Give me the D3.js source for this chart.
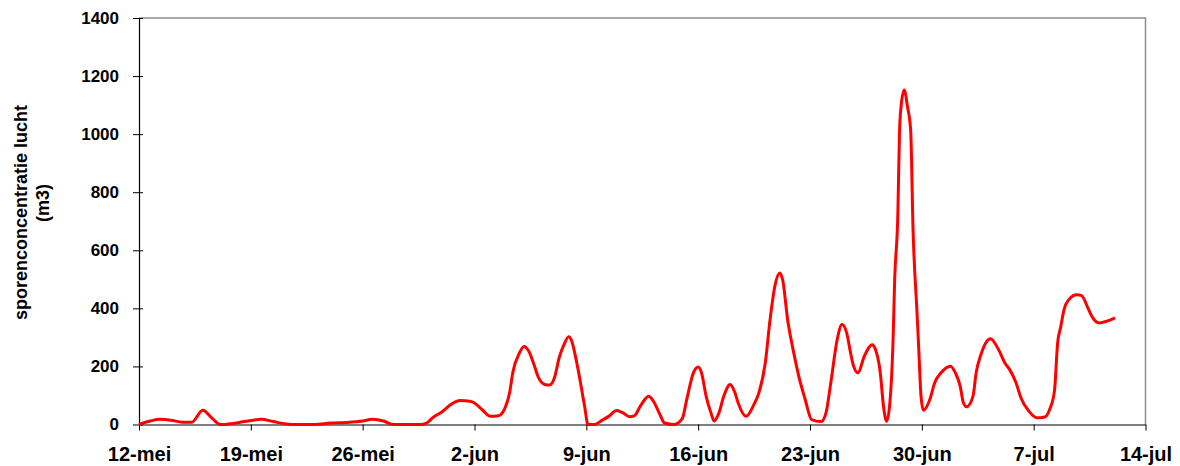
<!DOCTYPE html>
<html><head><meta charset="utf-8">
<script src="https://cdn.jsdelivr.net/npm/d3@7"></script>
<style>
body{margin:0;background:#fff;}
svg text{font-family:"Liberation Sans",Arial,sans-serif;font-weight:bold;fill:#000;}
</style></head>
<body><svg id="c" width="1180" height="466"></svg>
<script>
const tickLabels = ["12-mei","19-mei","26-mei","2-jun","9-jun","16-jun","23-jun","30-jun","7-jul","14-jul"];
const tickDays = [0,7,14,21,28,35,42,49,56,63];
const yTicks = [0,200,400,600,800,1000,1200,1400];
const days = [0,0.7,1.3,2.0,2.7,3.3,3.99,4.6,5.1,5.8,6.6,7.65,8.4,9.2,10.0,11.0,12.0,13.0,14.0,14.6,15.3,15.9,16.8,17.6,18.0,18.4,19.0,19.6,20.1,20.7,21.0,21.5,22.0,22.5,23.0,23.2,23.4,23.8,24.1,24.4,24.7,25.0,25.4,25.7,26.0,26.3,26.6,26.9,27.1,27.3,27.6,27.9,28.1,28.5,29.0,29.4,29.9,30.3,30.7,31.0,31.4,31.9,32.2,32.6,32.9,33.5,34.0,34.3,34.7,35.0,35.2,35.5,35.8,36.0,36.3,36.6,37.0,37.3,37.5,38.0,38.5,38.8,39.2,39.5,39.8,40.1,40.3,40.6,40.9,41.3,41.7,42.1,42.7,43.0,43.3,43.7,44.0,44.3,44.5,44.7,45.0,45.4,45.9,46.1,46.4,46.6,46.8,47.0,47.2,47.3,47.5,47.6,47.7,47.9,48.1,48.3,48.45,48.7,48.8,48.95,49.1,49.5,49.8,50.2,50.8,51.1,51.4,51.6,51.8,52.2,52.4,52.7,53.0,53.3,53.8,54.2,54.5,54.9,55.2,55.7,56.2,56.7,57.0,57.3,57.5,57.7,57.9,58.2,58.7,59.0,59.4,59.7,60.1,61.1];
const values = [0,12,18,15,8,8,49,20,0,3,10,18,10,2,0,0,5,7,12,18,12,0,0,0,5,24,45,72,83,80,74,50,28,30,70,110,180,245,269,252,210,162,138,136,160,230,275,302,285,240,155,60,0,0,15,28,48,40,27,30,65,97,80,35,5,0,20,90,178,198,180,97,40,12,40,97,138,110,75,28,70,109,212,361,476,522,495,361,269,166,86,17,10,40,143,292,344,315,258,206,178,235,275,258,178,63,11,75,292,499,728,1003,1095,1152,1095,1015,671,384,269,97,49,86,143,178,201,178,132,75,61,97,178,241,281,295,258,212,189,143,92,46,23,26,52,115,281,338,396,430,447,444,401,367,350,367];

const svg = d3.select("#c");
const x = d3.scaleLinear().domain([0,63]).range([139,1145.5]);
const y = d3.scaleLinear().domain([0,1400]).range([424.5,18]);

// frame top/right
svg.append("path").attr("d",`M${x(0)},${y(1400)}H${x(63)}V${y(0)}`)
  .attr("fill","none").attr("stroke","#8c8c8c").attr("stroke-width",1.5);

// y axis
const ya = svg.append("g").attr("transform",`translate(${x(0)},0)`)
  .call(d3.axisLeft(y).tickValues(yTicks).tickSizeInner(6).tickSizeOuter(0).tickPadding(14).tickFormat(d3.format("d")));
ya.select(".domain").attr("stroke","#000").attr("stroke-width",1.2);
ya.selectAll(".tick line").attr("stroke","#000").attr("x2",-6).attr("x1",4);
ya.selectAll("text").style("font-size","17px").style("font-family","'Liberation Sans',Arial,sans-serif").style("font-weight","bold");

// x axis
const xa = svg.append("g").attr("transform",`translate(0,${y(0)})`)
  .call(d3.axisBottom(x).tickValues(tickDays).tickSizeInner(6).tickSizeOuter(0).tickPadding(16).tickFormat((d,i)=>tickLabels[i]));
xa.select(".domain").attr("stroke","#000").attr("stroke-width",1.2);
xa.selectAll(".tick line").attr("stroke","#000");
xa.selectAll("text").style("font-size","20px").style("font-family","'Liberation Sans',Arial,sans-serif").style("font-weight","bold");

// axis title
svg.append("text").attr("transform","translate(27,212.5) rotate(-90)").attr("text-anchor","middle")
  .style("font-size","18px").text("sporenconcentratie lucht");
svg.append("text").attr("transform","translate(49,203) rotate(-90)").attr("text-anchor","middle")
  .style("font-size","18px").text("(m3)");

// line
const pts = days.map((d,i)=>[d,values[i]]);
svg.append("path").datum(pts)
  .attr("fill","none").attr("stroke","#ff0000").attr("stroke-width",3).attr("stroke-linejoin","round")
  .attr("d", d3.line().x(d=>x(d[0])).y(d=>y(d[1])).curve(d3.curveMonotoneX));
</script></body></html>
